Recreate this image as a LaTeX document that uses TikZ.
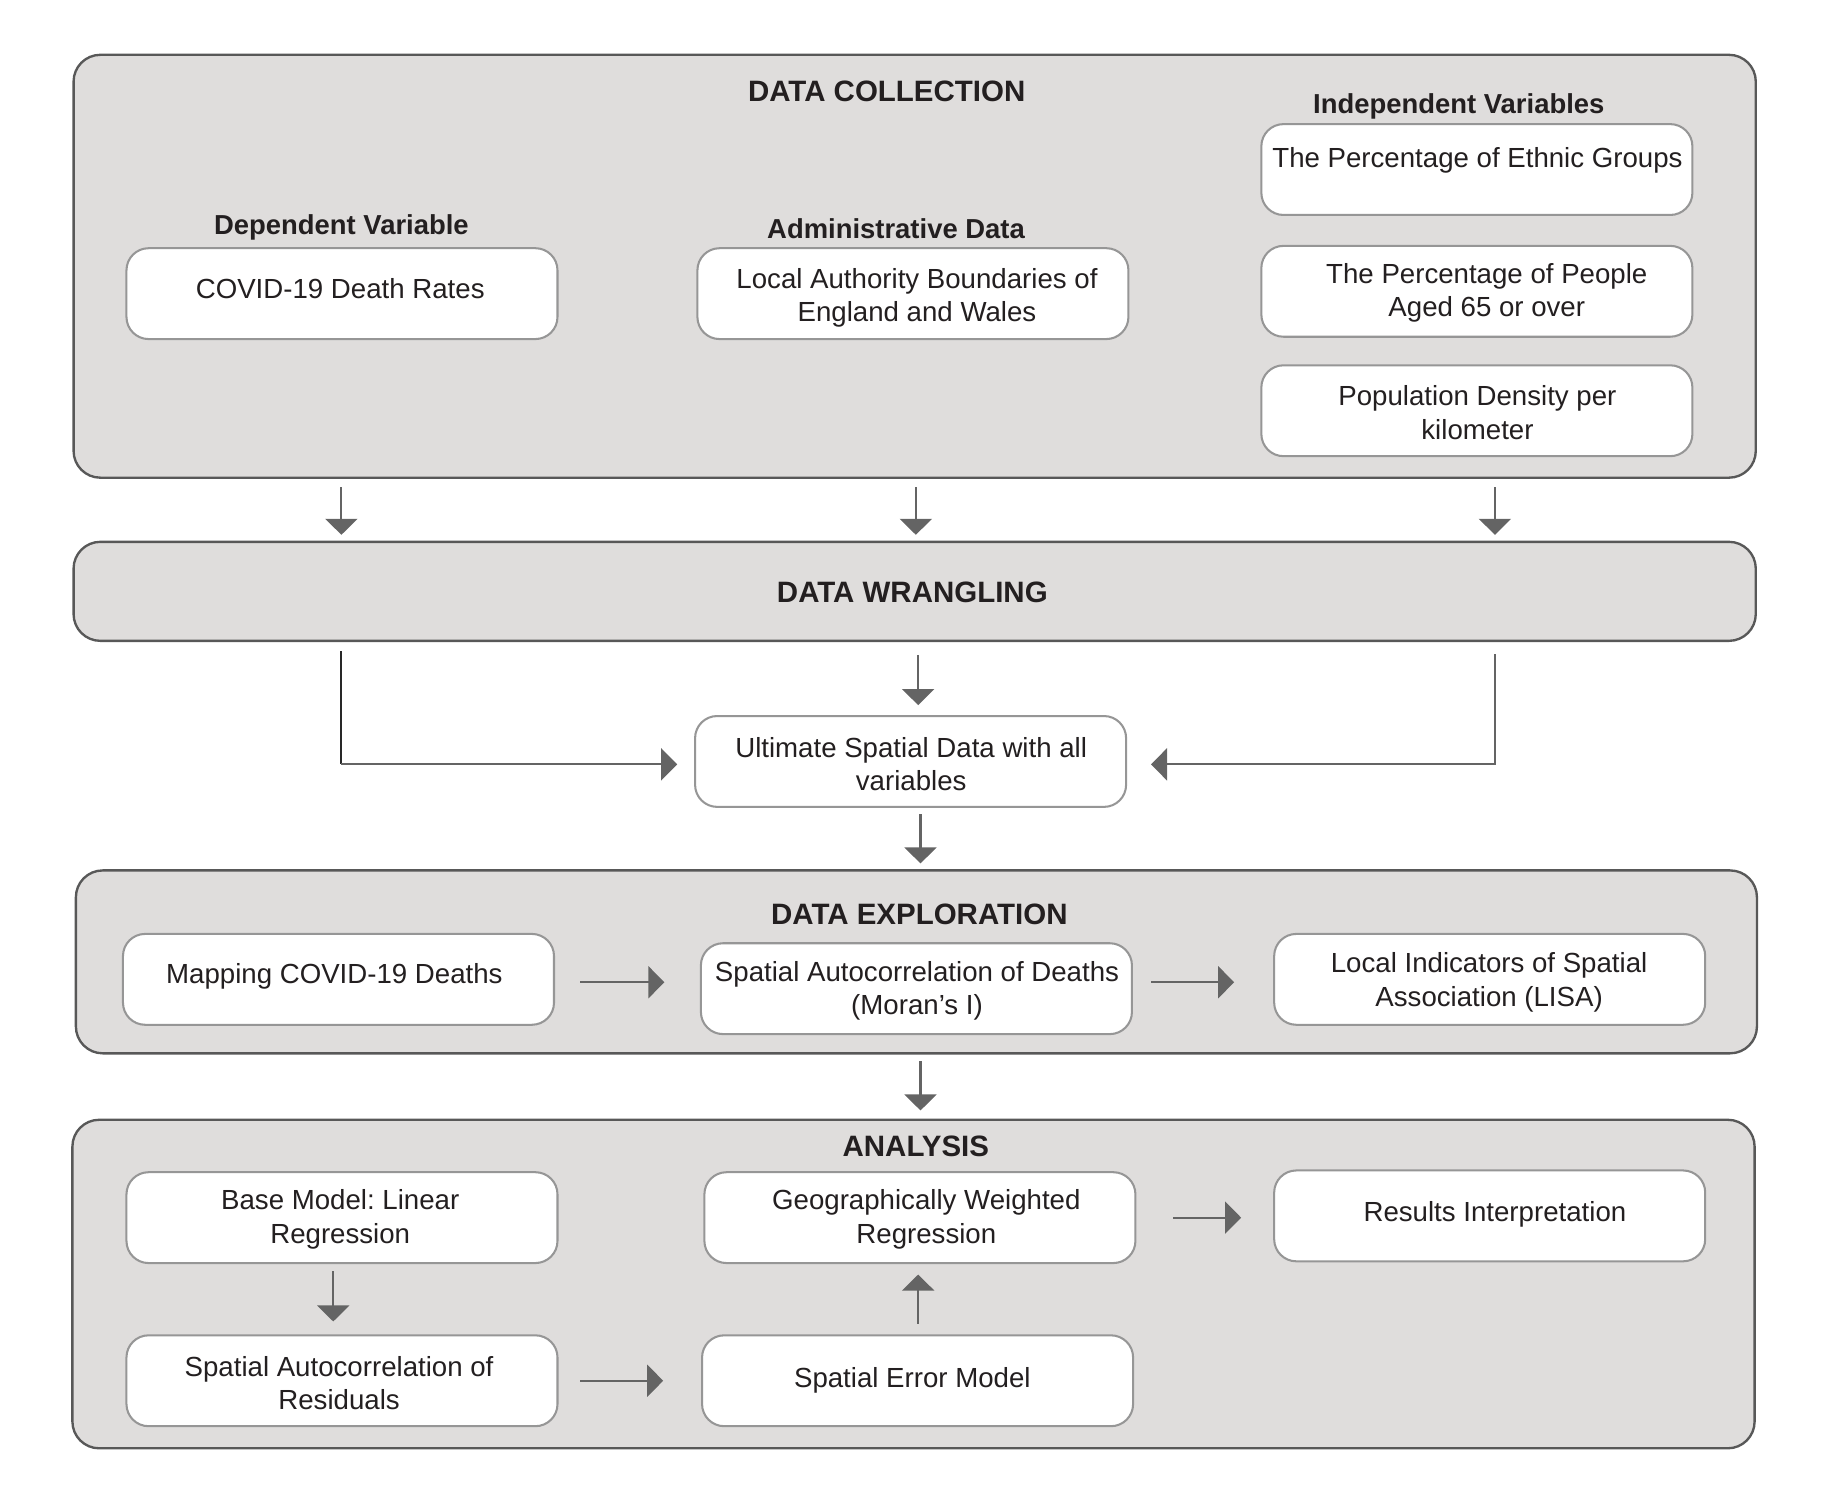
\documentclass[tikz,border=0pt]{standalone}
\usepackage{fontspec}
\setmainfont{Liberation Sans}
\usetikzlibrary{arrows.meta}
\frenchspacing
\definecolor{outerfill}{RGB}{223,221,220}
\definecolor{outerline}{RGB}{88,88,88}
\definecolor{innerline}{RGB}{150,150,150}
\definecolor{arrowgray}{RGB}{100,100,100}
\definecolor{darkline}{RGB}{40,40,40}
\definecolor{txtcol}{RGB}{35,31,32}
\begin{document}
\begin{tikzpicture}[x=0.02cm, y=-0.02cm,
  outerbox/.style={draw=outerline, fill=outerfill, line width=1.15pt, rounded corners=0.46cm, minimum width=28.88cm, inner sep=0pt},
  innerbox/.style={draw=innerline, fill=white, line width=1pt, rounded corners=0.38cm, minimum width=7.40cm, minimum height=1.56cm, inner sep=0pt},
  bodytxt/.style={text=txtcol, font=\fontsize{13.5}{16.3}\selectfont\frenchspacing, align=center, inner sep=0pt, yshift=-0.04cm},
  headtxt/.style={text=txtcol, font=\fontsize{14.4}{17}\selectfont\bfseries, inner sep=0pt, yshift=-0.02cm},
  subtxt/.style={text=txtcol, font=\fontsize{13.4}{16}\selectfont\bfseries, inner sep=0pt, yshift=-0.05cm},
  arr/.style={draw=arrowgray, line width=1pt, line join=miter, -{Triangle[length=0.275cm, width=0.55cm]}}
]
\useasboundingbox (0,0) rectangle (1568,1289);

% column / row coordinates
\coordinate (colA) at (293,0);
\coordinate (colB) at (786,0);
\coordinate (colC) at (1283,0);
\coordinate (colD) at (788,0);
\coordinate (colE) at (790,0);
\coordinate (colF) at (286,0);
\coordinate (rowX) at (0,843);
\coordinate (elbowL) at (293,656);
\coordinate (elbowR) at (1283,656);

% outer boxes
\node[outerbox, minimum height=7.26cm] (dc) at (785,228.5) {};
\node[outerbox, minimum height=1.70cm] (dw) at (785,507.5) {};
\node[outerbox, minimum height=3.14cm, minimum width=28.86cm] (de) at (786.5,825.5) {};
\node[outerbox, minimum height=5.64cm] (an) at (784,1102) {};

% headings
\node[headtxt] (hdc) at (761,77) {DATA COLLECTION};
\node[headtxt] (hdw) at (783,507) {DATA WRANGLING};
\node[headtxt] (hde) at (789,784) {DATA EXPLORATION};
\node[headtxt] (han) at (786,983) {ANALYSIS};
\node[subtxt] (hind) at (1252,89) {Independent Variables};
\node[subtxt] (hdep) at (293,193) {Dependent Variable};
\node[subtxt] (hadm) at (769,194) {Administrative Data};

% inner boxes
\node[innerbox] (covid) at (293.5,252) {};
\node[innerbox] (lab) at (783.5,252) {};
\node[innerbox] (eth) at (1267.5,145.5) {};
\node[innerbox] (ppl) at (1267.5,250) {};
\node[innerbox] (pop) at (1267.5,352.5) {};
\node[innerbox] (ult) at (781.5,653.5) {};
\node[innerbox] (map) at (290.5,840.5) {};
\node[innerbox] (sac) at (786.5,848.5) {};
\node[innerbox] (lisa) at (1278.5,840.5) {};
\node[innerbox] (base) at (293.5,1045) {};
\node[innerbox] (sar) at (293.5,1185) {};
\node[innerbox] (sem) at (787.5,1185) {};
\node[innerbox] (gwr) at (789.5,1045) {};
\node[innerbox] (res) at (1278.5,1043.5) {};

% box texts
\node[bodytxt] (tcovid) at (292,246) {COVID-19 Death Rates};
\node[bodytxt] (tlab) at (787,253.5) {Local Authority Boundaries of\\England and Wales};
\node[bodytxt] (teth) at (1268,136) {The Percentage of Ethnic Groups};
\node[bodytxt] (tppl) at (1276,249.5) {The Percentage of People\\Aged 65 or over};
\node[bodytxt] (tpop) at (1268,352) {Population Density per\\kilometer};
\node[bodytxt] (tult) at (782,654) {Ultimate Spatial Data with all\\variables};
\node[bodytxt] (tmap) at (287,836) {Mapping COVID-19 Deaths};
\node[bodytxt] (tsac) at (787,848.5) {Spatial Autocorrelation of Deaths\\(Moran’s I)};
\node[bodytxt] (tlisa) at (1278,841) {Local Indicators of Spatial\\Association (LISA)};
\node[bodytxt] (tbase) at (292,1044.5) {Base Model: Linear\\Regression};
\node[bodytxt] (tsar) at (291,1185) {Spatial Autocorrelation of\\Residuals};
\node[bodytxt] (tsem) at (783,1183) {Spatial Error Model};
\node[bodytxt] (tgwr) at (795,1044.5) {Geographically Weighted\\Regression};
\node[bodytxt] (tres) at (1283,1040) {Results Interpretation};

% connectors: collection -> wrangling
\draw[arr, shorten <=0.14cm, shorten >=0.10cm] (dc.south -| colA) -- (dw.north -| colA);
\draw[arr, shorten <=0.14cm, shorten >=0.10cm] (dc.south -| colB) -- (dw.north -| colB);
\draw[arr, shorten <=0.14cm, shorten >=0.10cm] (dc.south -| colC) -- (dw.north -| colC);

% wrangling -> ultimate
\draw[darkline, line width=1pt, shorten <=0.16cm] (dw.south -| colA) -- (elbowL);
\draw[arr, shorten >=0.29cm] (elbowL) -- (elbowL -| ult.west);
\draw[arr, shorten <=0.22cm, shorten >=0.17cm] (dw.south -| colD) -- (ult.north -| colD);
\draw[arr, shorten <=0.21cm, shorten >=0.41cm] (dw.south -| colC) -- (elbowR) -- (elbowR -| ult.east);

% ultimate -> exploration
\draw[arr, shorten <=0.11cm, shorten >=0.10cm] (ult.south -| colE) -- (de.north -| colE);

% exploration row
\draw[arr, shorten <=0.43cm, shorten >=0.61cm] (map.east |- rowX) -- (sac.west |- rowX);
\draw[arr, shorten <=0.31cm, shorten >=0.67cm] (sac.east |- rowX) -- (lisa.west |- rowX);

% exploration -> analysis
\draw[arr, shorten <=0.12cm, shorten >=0.14cm] (de.south -| colE) -- (an.north -| colE);

% analysis
\draw[arr, shorten <=0.12cm, shorten >=0.22cm] (base.south -| colF) -- (sar.north -| colF);
\draw[arr, shorten <=0.37cm, shorten >=0.65cm] (sar.east) -- (sem.west);
\draw[arr, shorten <=0.18cm, shorten >=0.18cm] (sem.north -| colD) -- (gwr.south -| colD);
\draw[arr, shorten <=0.63cm, shorten >=0.55cm] (gwr.east) -- (gwr.east -| res.west);
\end{tikzpicture}
\end{document}
